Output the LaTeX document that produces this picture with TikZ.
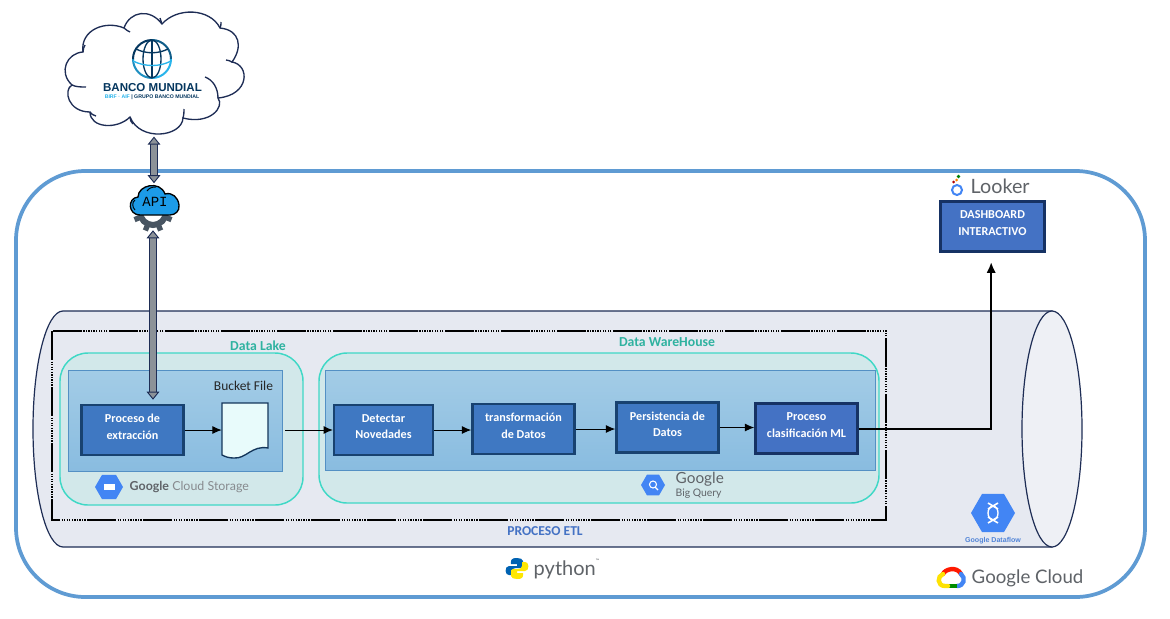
\documentclass[tikz,border=0pt]{standalone}
\usepackage{fontspec}
\usepackage{xcolor}
\usepackage{tikz}
\usetikzlibrary{shapes,shapes.geometric,arrows,positioning,calc,arrows.meta}
\setmainfont{Carlito}
\newfontfamily\logofont{Lato}
\newfontfamily\titlefont{Liberation Sans}
\newfontfamily\apifont{Liberation Mono}
\definecolor{outerline}{RGB}{95,155,211}
\definecolor{cylbg}{RGB}{230,233,241}
\definecolor{cylend}{RGB}{238,240,245}
\definecolor{cylline}{RGB}{30,45,85}
\definecolor{lakebg}{RGB}{210,232,234}
\definecolor{lakeline}{RGB}{64,216,198}
\definecolor{laketext}{RGB}{47,178,160}
\definecolor{zonetop}{RGB}{163,204,230}
\definecolor{zonebot}{RGB}{137,188,224}
\definecolor{zoneline}{RGB}{84,144,196}
\definecolor{stepbg}{RGB}{63,120,194}
\definecolor{stepline}{RGB}{24,66,112}
\definecolor{mlbg}{RGB}{68,114,196}
\definecolor{mlline}{RGB}{22,50,100}
\definecolor{docbg}{RGB}{232,251,251}
\definecolor{hexblue}{RGB}{66,133,244}
\definecolor{logogray}{RGB}{95,99,104}
\definecolor{navyglobe}{RGB}{5,55,95}
\definecolor{cyanglobe}{RGB}{40,180,235}
\definecolor{apiblue}{RGB}{28,155,232}
\definecolor{gearcol}{RGB}{72,85,98}
\definecolor{fatgray}{RGB}{140,146,152}

\begin{document}
\begin{tikzpicture}[x=0.75pt, y=-0.75pt,
    stepbox/.style={rectangle, draw=stepline, fill=stepbg, line width=1.9pt, minimum width=76.5pt, minimum height=37.5pt, align=center, text=white, text depth=5pt, font=\fontsize{9.1}{12.5}\selectfont\bfseries},
    mlbox/.style={stepbox, draw=mlline, fill=mlbg},
    zone/.style={draw=zoneline, line width=0.6pt, top color=zonetop, bottom color=zonebot},
    lake/.style={draw=lakeline, line width=1.1pt, fill=lakebg, rounded corners=21pt},
    zonelabel/.style={text=laketext, font=\fontsize{10.3}{12}\selectfont\bfseries},
    arrow/.style={-{Latex[length=7pt,width=6pt]}, line width=0.7pt},
    fatarrow/.style={{Triangle[length=6pt,width=9.5pt,fill=fatgray,line width=0.7pt]}-{Triangle[length=6pt,width=9.5pt,fill=fatgray,line width=0.7pt]}, draw=cylline, line width=0.7pt, double=fatgray, double distance=4.4pt},
    hexlogo/.style={regular polygon, regular polygon sides=6, fill=hexblue, inner sep=0pt},
    hook/.style={cylline, line width=1pt},
    etlline/.style={line width=1.9pt, dash pattern=on 22pt off 1pt on .9pt off 1pt on .9pt off 1pt on .9pt off 1pt on .9pt off 1pt on .9pt off 1pt on .9pt off 1pt on .9pt off 1pt on .9pt off 1pt on .9pt off 1pt on .9pt off 1pt}
]
\useasboundingbox (0,0) rectangle (1170,618);
\fill[white] (0,0) rectangle (1170,618);

% outer frame and cylinder
\draw[outerline, line width=2.8pt, rounded corners=52pt] (16,171) rectangle (1145,597);
\draw[cylline, line width=0.9pt, fill=cylbg] (63,311) arc[start angle=270, end angle=90, x radius=30, y radius=118] -- (1052,547) -- (1052,311) -- cycle;
\draw[cylline, line width=0.9pt, fill=cylend] (1052,429) ellipse[x radius=30, y radius=118];
\draw[etlline] (52,331) rectangle (886,520);
\node[text=mlbg, font=\fontsize{10.2}{12}\selectfont\bfseries] (etl) at (545,531) {PROCESO ETL};

% zones
\draw[lake] (60,353) rectangle (303,505);
\draw[lake] (319,353) rectangle (879,503);
\draw[zone] (68,370) rectangle (282,471);
\draw[zone] (325,370) rectangle (875,470);
\node[zonelabel] (lakelabel) at (258,346) {Data Lake};
\node[zonelabel] (dwlabel) at (667,342) {Data WareHouse};
\node[font=\fontsize{10.1}{12}\selectfont, text=black!85] (bucketlabel) at (243.5,386) {Bucket File};

% steps
\node[stepbox] (extraccion) at (132.5,430) {Proceso de\\extracción};
\node[rectangle, minimum width=34.5pt, minimum height=41pt, inner sep=0pt] (bucket) at (245,431) {};
\draw[stepline!80!black, line width=1pt, fill=docbg] (222,403) -- (268,403) -- (268,448) .. controls (252,445) and (246,459) .. (234,458) .. controls (229,458) and (226,457) .. (222,455) -- cycle;
\coordinate (bridge) at (285,430);
\node[stepbox, minimum width=74pt] (novedades) at (383.5,430) {Detectar\\Novedades};
\node[stepbox] (transformacion) at (523.5,429) {transformación\\de Datos};
\node[stepbox] (persistencia) at (667.5,427.5) {Persistencia de\\Datos};
\node[mlbox] (clasificacion) at (806.5,428.5) {Proceso\\clasificación ML};
\node[mlbox, minimum width=78pt] (dashboard) at (992.5,226.5) {DASHBOARD\\INTERACTIVO};

\draw[arrow] (extraccion.east) -- (extraccion.east -| bucket.west);
\draw[arrow] (bridge) -- (bridge -| novedades.west);
\draw[arrow] (novedades.east) -- (novedades.east -| transformacion.west);
\draw[arrow] (transformacion.east) -- (transformacion.east -| persistencia.west);
\draw[arrow] (persistencia.east) -- (persistencia.east -| clasificacion.west);
\draw[-{Latex[length=8pt,width=7pt]}, line width=1.5pt] (clasificacion.east) -| ([xshift=-1pt,yshift=-7pt]dashboard.south);

% banco mundial
\node[rectangle, minimum width=132pt, minimum height=92pt, inner sep=0pt] (banco) at (154,75) {};
\draw[hook, fill=white] (83,52) .. controls (80,30) and (105,20) .. (124,28)
  .. controls (130,11) and (150,8) .. (162,24)
  .. controls (177,7) and (210,8) .. (220,28)
  .. controls (240,30) and (243,47) .. (232,62)
  .. controls (250,65) and (250,95) .. (218,98)
  .. controls (225,107) and (210,125) .. (183,118)
  .. controls (182,137) and (140,142) .. (130,117)
  .. controls (117,130) and (90,128) .. (90,112)
  .. controls (68,112) and (63,90) .. (72,85)
  .. controls (58,72) and (67,53) .. (83,52) -- cycle;
\draw[hook] (205,77) .. controls (213,80) and (218,88) .. (218,98);
\draw[hook] (183,118) .. controls (184,114) and (184,112) .. (184,109);
\draw[hook] (130,117) .. controls (130,120) and (131,122) .. (133,124);
\draw[hook] (90,112) .. controls (91,114) and (93,115) .. (96,116);
\draw[hook] (72,85) .. controls (76,87) and (81,87) .. (86,87);
\draw[hook] (83,52) .. controls (83,49) and (84,47) .. (85,45);
\draw[hook] (124,28) .. controls (126,30) and (128,31) .. (130,32);
\draw[hook] (162,24) .. controls (161,22) and (161,20) .. (160,18);
\draw[hook] (220,28) .. controls (221,26) and (221,24) .. (221,22);
\draw[hook] (232,62) .. controls (230,61) and (228,60) .. (226,60);
\foreach \a/\b/\c in {0/90/cyanglobe, 90/180/cyanglobe!70!navyglobe, 180/270/navyglobe, 270/360/cyanglobe!30!navyglobe}
  \draw[\c, line width=1.5pt] (152,59) ++(\a:19) arc[start angle=\a, end angle=\b, radius=19];
\draw[navyglobe, line width=1pt] (152,59) ellipse[x radius=9, y radius=19];
\draw[navyglobe, line width=1pt] (152,40) -- (152,78);
\draw[navyglobe, line width=1pt] (136,49) .. controls (146,54) and (158,54) .. (168,49);
\draw[cyanglobe, line width=1pt] (133,61) .. controls (145,67) and (160,67) .. (171,61);
\node[text=navyglobe, font=\titlefont\fontsize{8.65}{11}\selectfont\bfseries] (bancotext) at (152.5,88) {BANCO MUNDIAL};
\node[font=\titlefont\fontsize{3.9}{5}\selectfont\bfseries, text=navyglobe] (bancosub) at (152,97) {\textcolor{cyanglobe}{BIRF · AIF} | GRUPO BANCO MUNDIAL};

% api
\node[circle, minimum size=27pt, inner sep=0pt] (gear) at (153,212) {};
\foreach \a in {0,45,...,315}
  \draw[gearcol, line width=4pt] (153,212) ++(\a+22.5:14) -- ++(\a+22.5:6);
\draw[gearcol, line width=4.5pt, fill=white] (153,212) circle[radius=13];
\draw[black, line width=1pt, fill=apiblue] (140,215) .. controls (128,215) and (127,198) .. (138,197) .. controls (138,185) and (160,180) .. (165,194) .. controls (172,192) and (178,197) .. (179,205) .. controls (180,211) and (175,215) .. (170,215) -- cycle;
\draw[black, line width=.7pt] (135,200) .. controls (132,202) and (132,207) .. (135,210);
\draw[black, line width=.7pt] (147,191) .. controls (149,188) and (152,187) .. (156,187);
\node[minimum height=25.5pt, inner sep=0pt] (api) at (154,200.5) {};
\node[inner sep=0pt, font=\apifont\fontsize{10.5}{12}\selectfont] (apitext) at (155,202) {API};

\draw[fatarrow] (banco.south) -- (banco.south |- api.north);
\draw[fatarrow, shorten >=3pt] (gear.south) -- (gear.south |- extraccion.north);

% product logos
\node[hexlogo, minimum size=21pt] (storagehex) at (109,487) {};
\fill[white] (103.5,484) rectangle (115,490);
\node[anchor=west, font=\logofont\fontsize{9.3}{11}\selectfont, text=logogray] (storage) at (125,487) {\textbf{Google} \textcolor{logogray!75}{Cloud Storage}};
\node[hexlogo, minimum size=18pt] (queryhex) at (653,485) {};
\draw[white, line width=0.8pt] (653,484.5) circle[radius=3.5] (655,487) -- (658,490);
\node[anchor=west, font=\logofont\fontsize{11.5}{13}\selectfont, text=logogray] (google) at (671,479) {Google};
\node[anchor=west, font=\logofont\fontsize{7.8}{9}\selectfont, text=logogray] (query) at (671,494) {Big Query};
\node[hexlogo, minimum size=33pt] (flowhex) at (993,513) {};
\draw[white, line width=1pt] (993,513) ellipse[x radius=5, y radius=7];
\draw[white, line width=1.2pt] (988,503) -- (998,509) (998,503) -- (988,509) (988,517) -- (998,523) (998,517) -- (988,523);
\node[font=\titlefont\fontsize{5.3}{6}\selectfont\bfseries, text=hexblue!75!gray] (flow) at (993,541) {Google Dataflow};

% looker
\draw[hexblue, line width=1.5pt] (957,190) circle[radius=5];
\fill[red!70!black] (953.5,182) circle[radius=1.5];
\fill[orange] (956.5,180) circle[radius=1.5];
\fill[green!50!black] (958.5,176.5) circle[radius=1.8];
\node[anchor=west, font=\logofont\fontsize{14.8}{18}\selectfont, text=logogray] (looker) at (966,186) {Looker};

% python
\fill[blue!45!cyan!70!black] (517,558) .. controls (510,558) and (511,561) .. (511,564) -- (517,564) -- (517,566) -- (509,566) .. controls (504,566) and (505,576) .. (509,575) -- (512,575) -- (512,571) .. controls (512,569) and (514,568) .. (516,568) -- (521,568) .. controls (523,568) and (523,566) .. (523,565) -- (523,561) .. controls (523,559) and (520,558) .. (517,558) -- cycle;
\fill[yellow!90!orange] (517,579) .. controls (524,579) and (523,576) .. (523,573) -- (517,573) -- (517,571) -- (525,571) .. controls (530,571) and (529,561) .. (525,562) -- (522,562) -- (522,566) .. controls (522,568) and (520,569) .. (518,569) -- (513,569) .. controls (511,569) and (511,571) .. (511,572) -- (511,576) .. controls (511,578) and (514,579) .. (517,579) -- cycle;
\node[anchor=west, font=\logofont\fontsize{15}{18}\selectfont, text=logogray] (python) at (529,569) {python\raisebox{1.2ex}{\fontsize{3.5}{4}\selectfont ™}};

% google cloud
\draw[red!80!orange, line width=3.3pt, line cap=round] (943,574) .. controls (945,569) and (957,566) .. (961,574);
\draw[hexblue, line width=3.3pt, line cap=round] (961,574) .. controls (966,578) and (964,586) .. (957,586);
\draw[green!55!black, line width=3.3pt] (957,586) -- (948,586);
\draw[yellow!85!orange, line width=3.3pt, line cap=round] (948,586) -- (945,586) .. controls (937,586) and (937,576) .. (943,574);
\node[anchor=west, font=\logofont\fontsize{14}{17}\selectfont, text=logogray] (gcloud) at (967,578) {Google Cloud};
\end{tikzpicture}
\end{document}
